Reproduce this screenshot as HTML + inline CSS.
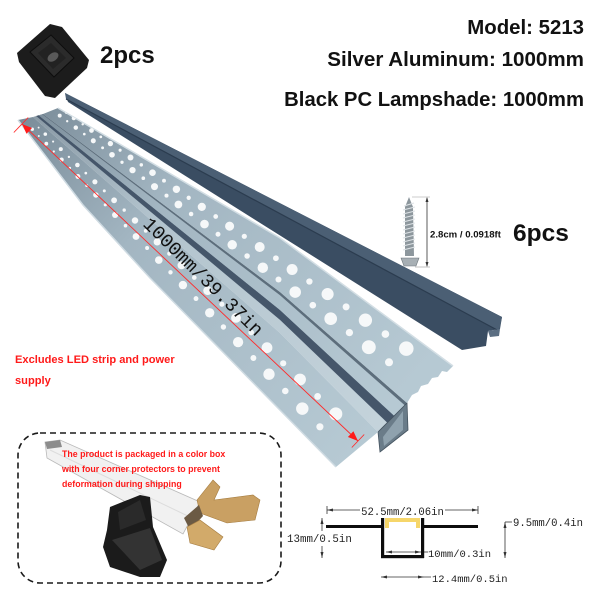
<!DOCTYPE html>
<html><head><meta charset="utf-8"><style>
html,body{margin:0;padding:0;background:#fff;}
body{width:600px;height:600px;overflow:hidden;position:relative;}
svg{position:absolute;left:0;top:0;}
.b{font-family:"Liberation Sans",sans-serif;font-weight:bold;}
.m{font-family:"Liberation Mono",monospace;}
</style></head><body>
<svg width="600" height="600" viewBox="0 0 600 600" xmlns="http://www.w3.org/2000/svg">
<defs>
<linearGradient id="alu" gradientUnits="userSpaceOnUse" x1="20" y1="115" x2="380" y2="420">
<stop offset="0" stop-color="#7a8c99"/><stop offset="0.35" stop-color="#a3b6c2"/><stop offset="1" stop-color="#b6c9d3"/></linearGradient>
<linearGradient id="alu2" gradientUnits="userSpaceOnUse" x1="20" y1="115" x2="380" y2="420">
<stop offset="0" stop-color="#8797a3"/><stop offset="0.35" stop-color="#b2c3cd"/><stop offset="1" stop-color="#c4d3db"/></linearGradient>
<clipPath id="lf"><polygon points="18,120 83,205 150,278 336,467 360,447 378,432 280,333 33,117"/></clipPath>
<clipPath id="rf"><polygon points="58,108 280,238 453,366 447,372 442,371 438,377 432,378 428,384 421,386 418,392 412,395 407,403 280,292 43,114"/></clipPath>
</defs>

<!-- corner protector top-left -->
<polygon points="17,53 50,24 62,27 89,60 87,68 55,98 45,96 19,62" fill="#1c1c1c"/>
<polygon points="30,52 51,35 74,58 54,77" fill="#2b2b2b" stroke="#0d0d0d" stroke-width="1"/>
<polygon points="38,53 51,43 66,58 53,69" fill="#222"/>
<ellipse cx="53" cy="57" rx="6" ry="4" fill="#5a5a5a" transform="rotate(-35 53 57)"/>
<text x="100" y="63" class="b" font-size="24" fill="#111">2pcs</text>

<!-- header texts -->
<text x="584" y="34" class="b" font-size="20.4" fill="#111" text-anchor="end">Model: 5213</text>
<text x="584" y="66" class="b" font-size="20.6" fill="#111" text-anchor="end">Silver Aluminum: 1000mm</text>
<text x="584" y="106" class="b" font-size="20.3" fill="#111" text-anchor="end">Black PC Lampshade: 1000mm</text>

<!-- cover (black PC lampshade) -->
<polygon points="65,93 502,317 500,329 488,331 486,346 462,350 68,102" fill="#3a4d62"/>
<polygon points="65,93 502,317 499,331 66,99" fill="#4b5f74"/>
<line x1="66" y1="99" x2="499" y2="331" stroke="#2b3c4f" stroke-width="1.2"/>
<polygon points="488,331 500,329 499,336 490,337" fill="#5b6e82"/>

<!-- channel -->
<polygon points="33,117 43,114 280,292 407,403 378,432 280,333" fill="url(#alu2)"/>
<polygon points="36.2,116 280,319.9 387.3,422.7 394.2,415.8 280,310 38.6,115.3" fill="#45566a"/>
<polygon points="38.6,115.3 280,310 394.2,415.8 404.7,405.3 280,295.3 42.2,114.2" fill="url(#alu)"/>
<polygon points="42.2,114.2 280,295.3 404.7,405.3 407,403 280,292 43,114" fill="#5d6e7c"/>
<polygon points="378,432 380,452 408,430 407,403" fill="#6a7c89" stroke="#44535f" stroke-width="0.8"/>
<polygon points="383,437 384,446 403,430 403,411" fill="#8fa2ae"/>

<!-- right flange -->
<polygon points="58,108 280,238 453,366 447,372 442,371 438,377 432,378 428,384 421,386 418,392 412,395 407,403 280,292 43,114" fill="url(#alu)"/>
<polyline points="58,108 280,238 453,366" fill="none" stroke="#d3dee4" stroke-width="1.5"/>
<g clip-path="url(#rf)"><g fill="#f6f8f9" transform="translate(1,-5)">
<circle cx="58.7" cy="120.6" r="1.98"/><circle cx="65.1" cy="117.8" r="1.09"/>
<circle cx="66.2" cy="126.2" r="1.15"/><circle cx="72.8" cy="123.2" r="2.1"/>
<circle cx="74.8" cy="132.6" r="2.24"/><circle cx="81.7" cy="129.3" r="1.23"/>
<circle cx="83.3" cy="139.1" r="1.31"/><circle cx="90.5" cy="135.5" r="2.38"/>
<circle cx="92.3" cy="145.8" r="2.52"/><circle cx="99.8" cy="141.9" r="1.39"/>
<circle cx="101.6" cy="152.8" r="1.47"/><circle cx="109.4" cy="148.6" r="2.67"/>
<circle cx="111.0" cy="159.8" r="2.82"/><circle cx="119.1" cy="155.2" r="1.55"/>
<circle cx="121.0" cy="167.3" r="1.64"/><circle cx="129.5" cy="162.5" r="2.98"/>
<circle cx="131.5" cy="175.1" r="3.15"/><circle cx="140.3" cy="169.9" r="1.73"/>
<circle cx="142.3" cy="183.2" r="1.83"/><circle cx="151.5" cy="177.7" r="3.32"/>
<circle cx="153.5" cy="191.6" r="3.5"/><circle cx="163.0" cy="185.7" r="1.93"/>
<circle cx="165.5" cy="200.6" r="2.03"/><circle cx="175.4" cy="194.3" r="3.7"/>
<circle cx="177.4" cy="209.5" r="3.89"/><circle cx="187.7" cy="202.8" r="2.14"/>
<circle cx="190.1" cy="219.0" r="2.25"/><circle cx="200.8" cy="211.9" r="4.09"/>
<circle cx="203.5" cy="229.1" r="4.31"/><circle cx="214.7" cy="221.5" r="2.37"/>
<circle cx="217.0" cy="239.2" r="2.49"/><circle cx="228.6" cy="231.2" r="4.52"/>
<circle cx="231.2" cy="249.8" r="4.75"/><circle cx="243.3" cy="241.3" r="2.61"/>
<circle cx="246.1" cy="261.0" r="2.75"/><circle cx="258.7" cy="252.0" r="4.99"/>
<circle cx="261.8" cy="272.7" r="5.24"/><circle cx="274.9" cy="263.2" r="2.88"/>
<circle cx="277.5" cy="284.5" r="3.02"/><circle cx="291.1" cy="274.5" r="5.5"/>
<circle cx="294.2" cy="297.1" r="5.77"/><circle cx="308.4" cy="286.5" r="3.17"/>
<circle cx="311.8" cy="310.2" r="3.33"/><circle cx="326.6" cy="299.1" r="6.05"/>
<circle cx="329.7" cy="323.7" r="6.34"/><circle cx="345.1" cy="311.9" r="3.49"/>
<circle cx="348.4" cy="337.6" r="3.65"/><circle cx="364.4" cy="325.2" r="6.64"/>
<circle cx="367.8" cy="352.2" r="6.95"/><circle cx="384.4" cy="339.1" r="3.82"/>
<circle cx="388.0" cy="367.3" r="4.0"/><circle cx="405.3" cy="353.6" r="7.27"/>
</g></g>

<!-- left flange -->
<polygon points="18,120 83,205 150,278 336,467 360,447 378,432 280,333 33,117" fill="url(#alu)"/>
<polyline points="18,120 83,205 150,278 336,467" fill="none" stroke="#cfdbe2" stroke-width="1.5"/>
<g clip-path="url(#lf)"><g fill="#f6f8f9">
<circle cx="32.3" cy="129.2" r="1.67"/><circle cx="38.6" cy="127.6" r="0.92"/>
<circle cx="38.8" cy="136.0" r="0.98"/><circle cx="45.3" cy="134.1" r="1.78"/>
<circle cx="46.3" cy="143.7" r="1.9"/><circle cx="53.1" cy="141.6" r="1.05"/>
<circle cx="53.8" cy="151.5" r="1.12"/><circle cx="60.8" cy="149.1" r="2.03"/>
<circle cx="61.6" cy="159.6" r="2.16"/><circle cx="68.9" cy="156.9" r="1.19"/>
<circle cx="69.8" cy="168.0" r="1.27"/><circle cx="77.4" cy="165.0" r="2.3"/>
<circle cx="77.9" cy="176.5" r="2.44"/><circle cx="85.8" cy="173.1" r="1.34"/>
<circle cx="86.7" cy="185.6" r="1.42"/><circle cx="94.9" cy="181.8" r="2.58"/>
<circle cx="95.9" cy="195.0" r="2.74"/><circle cx="104.3" cy="190.9" r="1.5"/>
<circle cx="105.3" cy="204.8" r="1.6"/><circle cx="114.1" cy="200.3" r="2.9"/>
<circle cx="115.1" cy="214.9" r="3.06"/><circle cx="124.2" cy="210.1" r="1.68"/>
<circle cx="125.5" cy="225.7" r="1.78"/><circle cx="135.0" cy="220.5" r="3.24"/>
<circle cx="136.0" cy="236.5" r="3.41"/><circle cx="145.7" cy="230.9" r="1.88"/>
<circle cx="147.1" cy="248.0" r="1.98"/><circle cx="157.2" cy="241.9" r="3.6"/>
<circle cx="158.8" cy="260.1" r="3.8"/><circle cx="169.3" cy="253.6" r="2.09"/>
<circle cx="170.5" cy="272.3" r="2.2"/><circle cx="181.5" cy="265.3" r="4.0"/>
<circle cx="182.9" cy="285.1" r="4.2"/><circle cx="194.3" cy="277.6" r="2.31"/>
<circle cx="196.0" cy="298.6" r="2.44"/><circle cx="207.7" cy="290.6" r="4.43"/>
<circle cx="209.7" cy="312.8" r="4.66"/><circle cx="221.9" cy="304.2" r="2.56"/>
<circle cx="223.4" cy="327.0" r="2.69"/><circle cx="236.0" cy="317.9" r="4.89"/>
<circle cx="238.1" cy="342.1" r="5.14"/><circle cx="251.2" cy="332.5" r="2.83"/>
<circle cx="253.4" cy="358.0" r="2.96"/><circle cx="267.0" cy="347.7" r="5.39"/>
<circle cx="269.0" cy="374.2" r="5.66"/><circle cx="283.2" cy="363.3" r="3.11"/>
<circle cx="285.3" cy="391.0" r="3.26"/><circle cx="300.0" cy="379.5" r="5.93"/>
<circle cx="302.3" cy="408.6" r="6.22"/><circle cx="317.6" cy="396.4" r="3.42"/>
<circle cx="319.9" cy="426.8" r="3.59"/><circle cx="335.8" cy="413.9" r="6.52"/>
</g></g>

<!-- red dimension line -->
<line x1="22" y1="124" x2="358" y2="441" stroke="#ff2a2a" stroke-width="0.9"/>
<polygon points="22,124 26.5,133.8 32,128" fill="#ff1a1a"/>
<polygon points="358,441 347.9,437 353.4,431.2" fill="#ff1a1a"/>
<line x1="28.2" y1="117.5" x2="13.8" y2="132.5" stroke="#ff2a2a" stroke-width="0.9"/>
<line x1="351.8" y1="447.5" x2="364.2" y2="434.5" stroke="#ff2a2a" stroke-width="0.9"/>
<text x="0" y="0" transform="translate(199,281) rotate(44.5)" text-anchor="middle" class="m" font-size="19" fill="#111">1000mm/39.37in</text>

<!-- screw -->
<polygon points="409,197 413,207 414,256 405,256 405,207" fill="#8d979d"/>
<g stroke="#dfe4e7" stroke-width="1">
<line x1="404" y1="206" x2="414" y2="203"/><line x1="403" y1="210" x2="415" y2="207"/>
<line x1="403" y1="214" x2="415" y2="211"/><line x1="403" y1="218" x2="415" y2="215"/>
<line x1="403" y1="222" x2="415" y2="219"/><line x1="403" y1="226" x2="415" y2="223"/>
<line x1="403" y1="230" x2="415" y2="227"/><line x1="403" y1="234" x2="415" y2="231"/>
<line x1="403" y1="238" x2="415" y2="235"/><line x1="403" y1="242" x2="415" y2="239"/>
<line x1="403" y1="246" x2="415" y2="243"/><line x1="403" y1="250" x2="415" y2="247"/>
</g>
<polygon points="401,258 419,258 416,266 404,266" fill="#a7afb4" stroke="#6e777c" stroke-width="0.6"/>
<line x1="412" y1="197" x2="430" y2="197" stroke="#999" stroke-width="0.6"/>
<line x1="415" y1="267" x2="430" y2="267" stroke="#999" stroke-width="0.6"/>
<line x1="427" y1="198" x2="427" y2="266" stroke="#333" stroke-width="0.8"/>
<polygon points="427,197 425.5,202 428.5,202" fill="#333"/>
<polygon points="427,267 425.5,262 428.5,262" fill="#333"/>
<text x="430" y="237.5" class="b" font-size="9.6" fill="#111">2.8cm / 0.0918ft</text>
<text x="513" y="241" class="b" font-size="24.5" fill="#111">6pcs</text>

<!-- red note -->
<text x="15" y="363" class="b" font-size="11.1" fill="#ff1a1a">Excludes LED strip and power</text>
<text x="15" y="384" class="b" font-size="11.1" fill="#ff1a1a">supply</text>

<!-- dashed package box -->
<rect x="18" y="433" width="263" height="150" rx="22" ry="22" fill="none" stroke="#1a1a1a" stroke-width="1.6" stroke-dasharray="6 4"/>
<polygon points="45,442 60,440 200,502 183,534 47,458" fill="#f1f1f1" stroke="#b9b9b9" stroke-width="0.8"/>
<polygon points="45,442 60,440 62,447 47,449" fill="#8c8c8c"/>
<line x1="50" y1="450" x2="192" y2="518" stroke="#dcdcdc" stroke-width="1"/>
<polygon points="197,500 213,480 220,487 214,500 253,495 260,500 255,520 227,523 200,513" fill="#c9a063" stroke="#a57c40" stroke-width="0.6"/>
<polygon points="184,518 199,505 203,516 190,530" fill="#6b5a44"/>
<polygon points="187,527 200,520 223,537 214,550 190,543" fill="#d2aa6a" stroke="#a57c40" stroke-width="0.6"/>
<polygon points="110,507 140,495 150,497 153,527 167,560 160,577 140,577 110,567 103,547 107,530" fill="#1b1b1b"/>
<polygon points="112,540 150,528 162,560 140,570" fill="#333"/>
<polygon points="118,512 140,500 146,520 120,530" fill="#2a2a2a"/>
<text x="62" y="457" class="b" font-size="8.8" fill="#ff1a1a">The product is packaged in a color box</text>
<text x="62" y="472" class="b" font-size="8.8" fill="#ff1a1a">with four corner protectors to prevent</text>
<text x="62" y="487" class="b" font-size="8.8" fill="#ff1a1a">deformation during shipping</text>

<!-- profile diagram -->
<g stroke="#333" stroke-width="0.8" fill="none">
<line x1="327" y1="510" x2="360" y2="510"/><line x1="445" y1="510" x2="478" y2="510"/>
<line x1="327" y1="506" x2="327" y2="514"/><line x1="478" y1="506" x2="478" y2="514"/>
<line x1="322" y1="518" x2="322" y2="531"/><line x1="322" y1="546" x2="322" y2="558"/>
<line x1="386" y1="552" x2="421" y2="552"/><line x1="421" y1="552" x2="428" y2="552"/>
<line x1="381" y1="577" x2="431" y2="577"/>
<line x1="505" y1="522" x2="505" y2="558"/><line x1="505" y1="522" x2="512" y2="522"/>
</g>
<g fill="#333">
<polygon points="327,510 333,508.5 333,511.5"/><polygon points="478,510 472,508.5 472,511.5"/>
<polygon points="322,518 320.5,524 323.5,524"/><polygon points="322,558 320.5,552 323.5,552"/>
<polygon points="386,552 392,550.5 392,553.5"/><polygon points="421,552 415,550.5 415,553.5"/>
<polygon points="381,577 387,575.5 387,578.5"/><polygon points="424,577 418,575.5 418,578.5"/>
<polygon points="505,522 503.5,528 506.5,528"/><polygon points="505,558 503.5,552 506.5,552"/>
</g>
<g fill="#0d0d0d">
<rect x="326" y="525" width="58" height="3"/>
<rect x="421" y="525" width="57" height="3"/>
<rect x="381" y="518" width="3.2" height="40"/>
<rect x="421" y="518" width="3.2" height="40"/>
<rect x="381" y="555" width="43" height="3.2"/>
</g>
<path d="M385,518 H420 V528 H416 V522 H389 V528 H385 Z" fill="#f6d66a"/>
<text x="402.5" y="515" class="m" font-size="10.6" fill="#222" text-anchor="middle">52.5mm/2.06in</text>
<text x="287" y="542" class="m" font-size="10.8" fill="#222">13mm/0.5in</text>
<text x="428" y="557" class="m" font-size="10.5" fill="#222">10mm/0.3in</text>
<text x="432" y="582" class="m" font-size="10.5" fill="#222">12.4mm/0.5in</text>
<text x="513" y="526" class="m" font-size="10.6" fill="#222">9.5mm/0.4in</text>
</svg>
</body></html>
